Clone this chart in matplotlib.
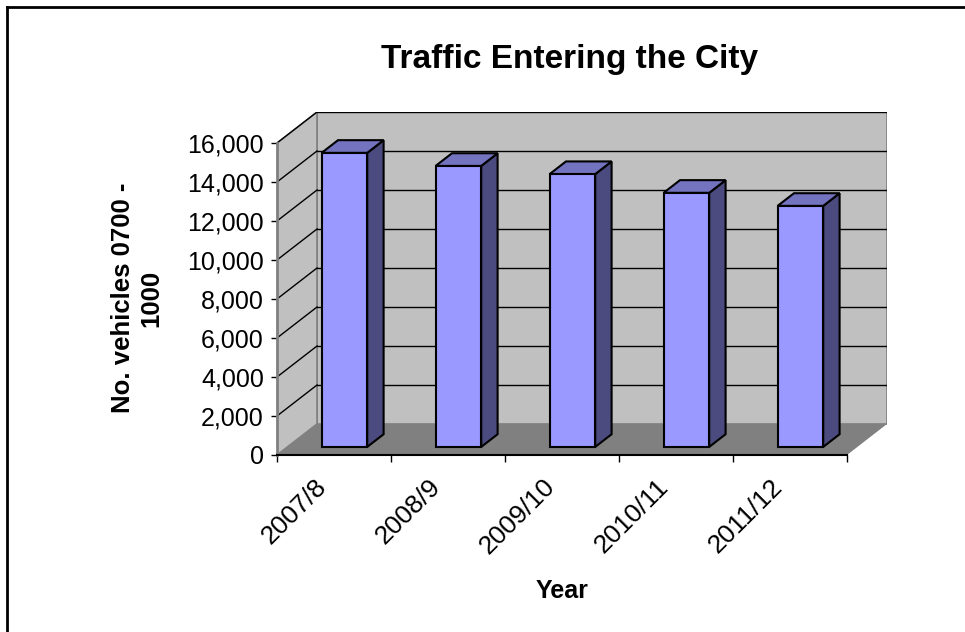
import numpy as np
import matplotlib
matplotlib.use("Agg")
import matplotlib.pyplot as plt
import matplotlib.transforms as mtransforms
from matplotlib.patches import Polygon, Rectangle
from matplotlib.lines import Line2D

plt.rcParams['font.family'] = ['Liberation Sans', 'DejaVu Sans']

years = ["2007/8", "2008/9", "2009/10", "2010/11", "2011/12"]
vehicles = [15080, 14410, 13990, 13030, 12360]
y_ticks = [0, 2000, 4000, 6000, 8000, 10000, 12000, 14000, 16000]

title = "Traffic Entering the City"
x_title = "Year"
y_title = "No. vehicles 0700 -\n1000"

# 3d look: depth vector of the box in data units
ymax = 16000
dx, dy = 0.351, 1590
bar_w = 0.4
f0, f1 = 0.26, 0.67  # bar front / back as fraction of depth

wall_c = "#c0c0c0"
floor_c = "#808080"
front_c = "#9999ff"
side_c = "#4b4b80"
top_c = "#7373c0"

fig = plt.figure(figsize=(9.65, 6.32), dpi=100)
ax = fig.add_axes([277 / 965, 1 - 455 / 632, 610 / 965, 343 / 632])
ax.set_xlim(0, len(years) + dx)
ax.set_ylim(0, ymax + dy)
ax.patch.set_visible(False)
n = len(years)

# walls and floor
ax.add_patch(Polygon([(dx, dy), (n + dx, dy), (n + dx, ymax + dy), (dx, ymax + dy)],
                     closed=True, fc=wall_c, ec="#808080", lw=1.2, zorder=1))
ax.add_patch(Polygon([(0, 0), (dx, dy), (dx, ymax + dy), (0, ymax)],
                     closed=True, fc=wall_c, ec="#808080", lw=1.2, zorder=1))
ax.add_patch(Polygon([(0, 0), (n, 0), (n + dx, dy), (dx, dy)],
                     closed=True, fc=floor_c, ec="none", zorder=1))

# gridlines on back and side wall
for v in y_ticks[1:]:
    ax.plot([dx, n + dx], [v + dy, v + dy], color="black", lw=1, zorder=2)
    ax.plot([0, dx], [v, v + dy], color="black", lw=1, zorder=2)

# bars
for i, val in enumerate(vehicles):
    x0 = i + (1 - bar_w) / 2 + f0 * dx
    y0 = f0 * dy
    ddx = (f1 - f0) * dx
    ddy = (f1 - f0) * dy
    side = [(x0 + bar_w, y0), (x0 + bar_w + ddx, y0 + ddy),
            (x0 + bar_w + ddx, y0 + ddy + val), (x0 + bar_w, y0 + val)]
    top = [(x0, y0 + val), (x0 + bar_w, y0 + val),
           (x0 + bar_w + ddx, y0 + ddy + val), (x0 + ddx, y0 + ddy + val)]
    ax.add_patch(Polygon(side, closed=True, fc=side_c, ec="black", lw=1.5, zorder=3))
    ax.add_patch(Polygon(top, closed=True, fc=top_c, ec="black", lw=1.5, zorder=3))
    ax.add_patch(Rectangle((x0, y0), bar_w, val, fc=front_c, ec="black", lw=1.5, zorder=4))

# axes
for s in ["top", "right"]:
    ax.spines[s].set_visible(False)
ax.spines["left"].set_bounds(0, ymax)
ax.spines["left"].set_color("#808080")
ax.spines["left"].set_linewidth(2)
ax.spines["bottom"].set_bounds(0, n)
ax.spines["bottom"].set_linewidth(1.5)
ax.spines["left"].set_zorder(5)
ax.spines["bottom"].set_zorder(5)

ax.set_yticks(y_ticks)
ax.set_yticklabels([f"{v:,}" for v in y_ticks])
ax.tick_params(axis="y", direction="out", length=4.5, width=1, color="black",
               labelsize=18, pad=5)

ax.set_xticks(np.arange(n + 1))
ax.set_xticklabels([])
ax.set_xticks(np.arange(n) + 0.5, minor=True)
ax.set_xticklabels(years, minor=True, rotation=45, ha="right", va="center",
                   rotation_mode="anchor")
ax.tick_params(axis="x", which="major", direction="out", length=5, width=1)
ax.tick_params(axis="x", which="minor", length=0, labelsize=19, pad=20)
shift = mtransforms.ScaledTranslation(-11 / 100, 0, fig.dpi_scale_trans)
for lab in ax.get_xticklabels(minor=True):
    lab.set_transform(lab.get_transform() + shift)

# titles
fig.text(570 / 965, 1 - 68 / 632, title, ha="center", va="baseline",
         fontsize=24, fontweight="bold")
fig.text(562 / 965, 1 - 598 / 632, x_title, ha="center", va="baseline",
         fontsize=18, fontweight="bold")
fig.text(137 / 965, 1 - 298 / 632, y_title, ha="center", va="center",
         rotation=90, fontsize=18.5, fontweight="bold", multialignment="center",
         linespacing=1.25)

# chart area border (top and left only visible)
fig.add_artist(Line2D([7 / 965, 1], [1 - 7 / 632, 1 - 7 / 632], color="black", lw=2))
fig.add_artist(Line2D([7 / 965, 7 / 965], [0, 1 - 7 / 632], color="black", lw=2))

fig.savefig("out.png", dpi=100)
